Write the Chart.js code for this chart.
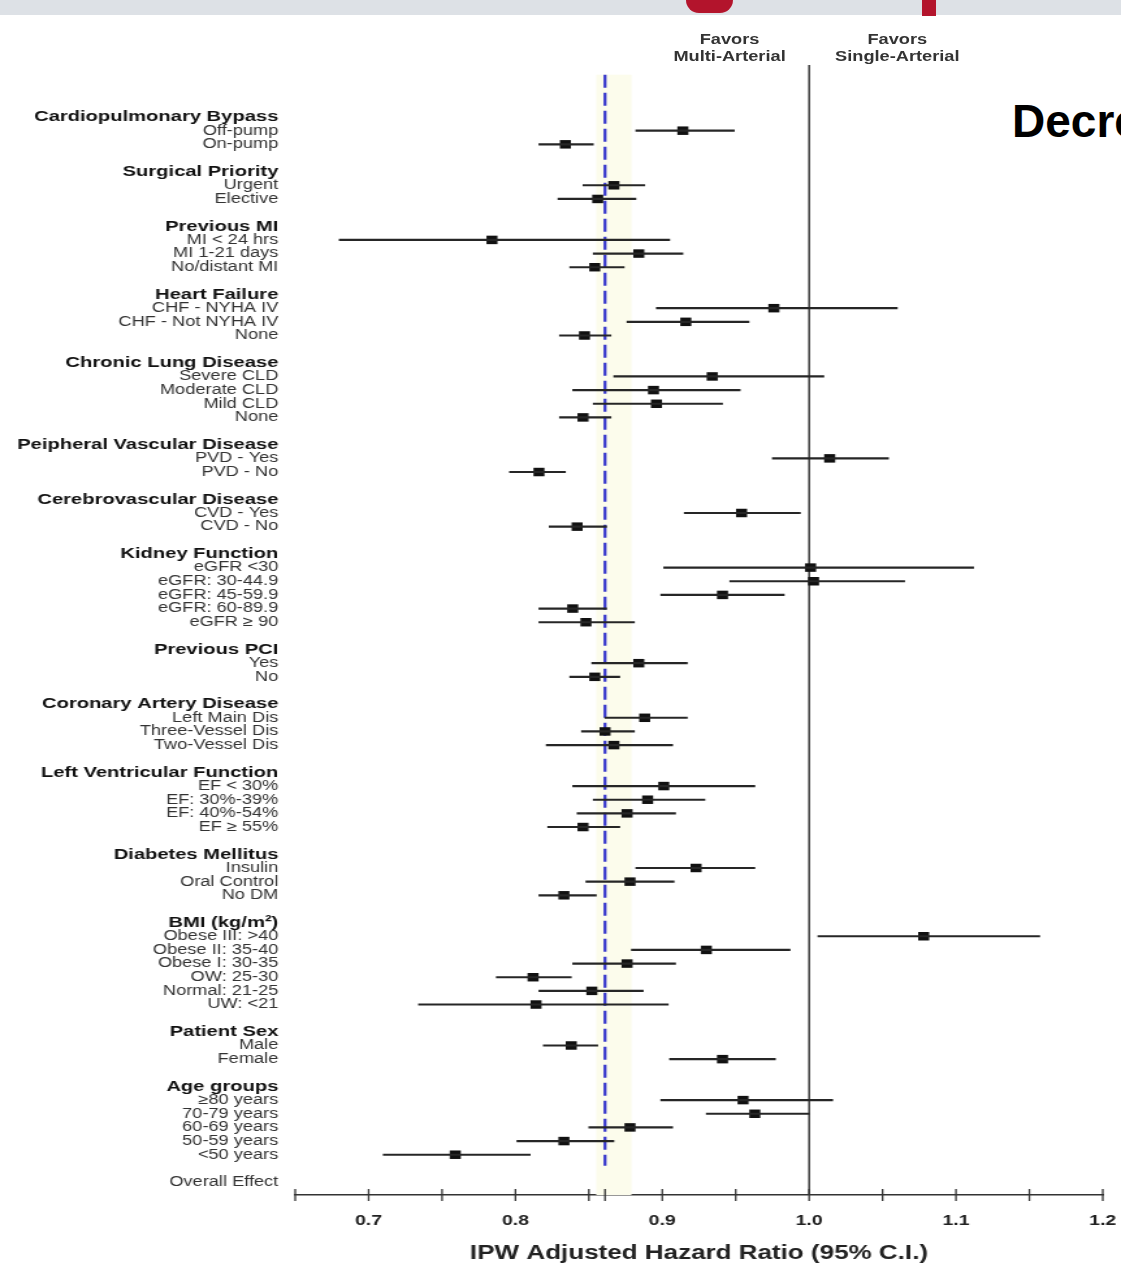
<!DOCTYPE html>
<html>
<head>
<meta charset="utf-8">
<title>IPW Adjusted Hazard Ratio forest plot</title>
<script src="https://cdn.jsdelivr.net/npm/chart.js@4.4.0/dist/chart.umd.min.js"></script>
<style>
  html, body { margin:0; padding:0; background:#fff; }
  body { width:1121px; height:1272px; overflow:hidden; position:relative;
         font-family:"Liberation Sans", Arial, sans-serif; }
  .topbar { position:absolute; left:0; top:0; width:1121px; height:15px; background:#dde1e6; }
  .red-round { position:absolute; left:686px; top:0; width:47px; height:13px; background:#b3142c;
               border-radius:0 0 22px 22px; }
  .red-bar { position:absolute; left:922px; top:0; width:14px; height:16px; background:#b3142c; }
  .slide-title { position:absolute; left:1012px; top:98px; font-size:46px; line-height:46px;
                 font-weight:bold; color:#000; white-space:nowrap; }
  /* the picture is stretched sideways, so the plot is drawn narrow and widened */
  #stage { position:absolute; left:0; top:0; width:862px; height:1272px;
           transform:scaleX(1.30046); transform-origin:0 0; }
  .favors { position:absolute; top:31px; width:150px; text-align:center; font-size:14px;
            line-height:17px; font-weight:bold; color:#333; }
</style>
</head>
<body>
<div class="topbar"></div>
<div class="red-round"></div>
<div class="red-bar"></div>
<div class="slide-title">Decreased</div>

<div id="stage">
  <canvas id="forest" width="862" height="1272"></canvas>
  <div class="favors" style="left:486px">Favors<br>Multi-Arterial</div>
  <div class="favors" style="left:615px">Favors<br>Single-Arterial</div>
</div>

<script>
// rows top to bottom, '' = blank spacer row
const rowLabels = [
  'Cardiopulmonary Bypass','Off-pump','On-pump','',
  'Surgical Priority','Urgent','Elective','',
  'Previous MI','MI < 24 hrs','MI 1-21 days','No/distant MI','',
  'Heart Failure','CHF - NYHA IV','CHF - Not NYHA IV','None','',
  'Chronic Lung Disease','Severe CLD','Moderate CLD','Mild CLD','None','',
  'Peipheral Vascular Disease','PVD - Yes','PVD - No','',
  'Cerebrovascular Disease','CVD - Yes','CVD - No','',
  'Kidney Function','eGFR <30','eGFR: 30-44.9','eGFR: 45-59.9','eGFR: 60-89.9','eGFR \u2265 90','',
  'Previous PCI','Yes','No','',
  'Coronary Artery Disease','Left Main Dis','Three-Vessel Dis','Two-Vessel Dis','',
  'Left Ventricular Function','EF < 30%','EF: 30%-39%','EF: 40%-54%','EF \u2265 55%','',
  'Diabetes Mellitus','Insulin','Oral Control','No DM','',
  'BMI (kg/m\u00b2)','Obese III: >40','Obese II: 35-40','Obese I: 30-35','OW: 25-30','Normal: 21-25','UW: <21','',
  'Patient Sex','Male','Female','',
  'Age groups','\u226580 years','70-79 years','60-69 years','50-59 years','<50 years','',
  'Overall Effect'
];

const headerLabels = ['Cardiopulmonary Bypass','Surgical Priority','Previous MI','Heart Failure',
  'Chronic Lung Disease','Peipheral Vascular Disease','Cerebrovascular Disease','Kidney Function',
  'Previous PCI','Coronary Artery Disease','Left Ventricular Function','Diabetes Mellitus',
  'BMI (kg/m\u00b2)','Patient Sex','Age groups'];

const hrEstimate = [
  null,0.914,0.834,null,
  null,0.867,0.856,null,
  null,0.784,0.884,0.854,null,
  null,0.976,0.916,0.847,null,
  null,0.934,0.894,0.896,0.846,null,
  null,1.014,0.816,null,
  null,0.954,0.842,null,
  null,1.001,1.003,0.941,0.839,0.848,null,
  null,0.884,0.854,null,
  null,0.888,0.861,0.867,null,
  null,0.901,0.890,0.876,0.846,null,
  null,0.923,0.878,0.833,null,
  null,1.078,0.930,0.876,0.812,0.852,0.814,null,
  null,0.838,0.941,null,
  null,0.955,0.963,0.878,0.833,0.759,null,
  null
];

const ciLower = [
  null,0.882,0.816,null,
  null,0.846,0.829,null,
  null,0.680,0.853,0.837,null,
  null,0.896,0.876,0.830,null,
  null,0.867,0.839,0.853,0.830,null,
  null,0.975,0.796,null,
  null,0.915,0.823,null,
  null,0.901,0.946,0.899,0.816,0.816,null,
  null,0.852,0.837,null,
  null,0.861,0.845,0.821,null,
  null,0.839,0.853,0.842,0.822,null,
  null,0.882,0.848,0.816,null,
  null,1.006,0.879,0.839,0.787,0.816,0.734,null,
  null,0.819,0.905,null,
  null,0.899,0.930,0.850,0.801,0.710,null,
  null
];

const ciUpper = [
  null,0.949,0.853,null,
  null,0.888,0.882,null,
  null,0.905,0.914,0.874,null,
  null,1.060,0.959,0.865,null,
  null,1.010,0.953,0.941,0.865,null,
  null,1.054,0.834,null,
  null,0.994,0.862,null,
  null,1.112,1.065,0.983,0.862,0.881,null,
  null,0.917,0.871,null,
  null,0.917,0.881,0.907,null,
  null,0.963,0.929,0.909,0.871,null,
  null,0.963,0.908,0.855,null,
  null,1.157,0.987,0.909,0.838,0.887,0.904,null,
  null,0.856,0.977,null,
  null,1.016,1.000,0.907,0.867,0.810,null,
  null
];

const overallEffect = 0.861;
const overallBand = [0.855, 0.879];
const nullEffect = 1.0;
const xTickValues = [0.65,0.7,0.75,0.8,0.85,overallEffect,0.9,0.95,1.0,1.05,1.1,1.15,1.2];
const xAxisTitle = 'IPW Adjusted Hazard Ratio (95% C.I.)';

const ciData = [];
const pointData = [];
rowLabels.forEach((lab, i) => {
  if (hrEstimate[i] == null) return;
  ciData.push({x: [ciLower[i], ciUpper[i]], y: i});
  pointData.push({x: hrEstimate[i], y: i});
});

// reference lines and axis tick marks
const refLines = {
  id: 'refLines',
  beforeDatasetsDraw(chart){
    const {ctx, chartArea: a, scales: {x, y}} = chart;
    const top = y.getPixelForValue(-3.1), bottom = y.getPixelForValue(76.8);
    ctx.save();
    const b0 = x.getPixelForValue(overallBand[0]), b1 = x.getPixelForValue(overallBand[1]);
    ctx.fillStyle = '#fcfcec';
    ctx.fillRect(b0, top, b1 - b0, a.bottom - top);

    ctx.strokeStyle = '#3a3a3a';
    ctx.lineWidth = 1.5;
    const xn = x.getPixelForValue(nullEffect);
    ctx.beginPath(); ctx.moveTo(xn, a.top); ctx.lineTo(xn, a.bottom); ctx.stroke();

    ctx.strokeStyle = '#3434cc';
    ctx.lineWidth = 2.2;
    ctx.setLineDash([13, 5]);
    const xo = x.getPixelForValue(overallEffect);
    ctx.beginPath(); ctx.moveTo(xo, top); ctx.lineTo(xo, bottom); ctx.stroke();
    ctx.restore();
  },
  afterDraw(chart){
    const {ctx, chartArea: a, scales: {x}} = chart;
    ctx.save();
    ctx.strokeStyle = '#333';
    ctx.lineWidth = 1.3;
    x.ticks.forEach(t => {
      const px = x.getPixelForValue(t.value);
      ctx.beginPath(); ctx.moveTo(px, a.bottom - 6); ctx.lineTo(px, a.bottom + 6); ctx.stroke();
    });
    ctx.restore();
  }
};

new Chart(document.getElementById('forest'), {
  type: 'scatter',
  data: {
    datasets: [
      {
        type: 'bar',
        indexAxis: 'y',
        data: ciData,
        backgroundColor: '#262626',
        barThickness: 1.5,
        borderWidth: 0
      },
      {
        type: 'scatter',
        data: pointData,
        pointStyle: 'rect',
        pointRadius: 6,
        backgroundColor: '#111',
        borderColor: '#111',
        borderWidth: 0
      }
    ]
  },
  options: {
    responsive: false,
    animation: false,
    events: [],
    layout: { padding: { top: 65, right: 14, left: 0, bottom: 0 } },
    plugins: { legend: { display: false }, tooltip: { enabled: false } },
    scales: {
      x: {
        type: 'linear',
        position: 'bottom',
        min: 0.65,
        max: 1.2,
        offset: false,
        afterBuildTicks: s => { s.ticks = xTickValues.map(v => ({value: v})); },
        afterFit: s => { s.height = 77; s.paddingLeft = 0; s.paddingRight = 0; },
        grid: { display: false, drawTicks: false },
        border: { display: true, color: '#333', width: 1.5 },
        ticks: {
          autoSkip: false,
          maxRotation: 0,
          padding: 17,
          color: '#222',
          font: { family: '"Liberation Sans", Arial, sans-serif', size: 15, weight: 'bold' },
          callback: v => Math.abs(v * 10 - Math.round(v * 10)) < 1e-6 ? v.toFixed(1) : ''
        },
        title: {
          display: true,
          text: xAxisTitle,
          color: '#222',
          font: { family: '"Liberation Sans", Arial, sans-serif', size: 20, weight: 'bold' },
          padding: { top: 0, bottom: 7 }
        }
      },
      y: {
        type: 'linear',
        reverse: true,
        min: -3.81,
        max: 78.95,
        offset: false,
        afterBuildTicks: s => { s.ticks = rowLabels.map((l, i) => ({value: i})); },
        afterFit: s => { s.width = 227; s.paddingTop = 0; s.paddingBottom = 0; },
        grid: { display: false, drawTicks: false, offset: false },
        border: { display: false },
        ticks: {
          autoSkip: false,
          padding: 13,
          callback: v => rowLabels[v],
          color: c => headerLabels.includes(rowLabels[c.index]) ? '#111' : '#333',
          font: c => headerLabels.includes(rowLabels[c.index])
            ? { family: '"Liberation Sans", Arial, sans-serif', size: 15.5, weight: 'bold' }
            : { family: '"Liberation Sans", Arial, sans-serif', size: 14 }
        }
      }
    }
  },
  plugins: [refLines]
});
</script>
</body>
</html>
